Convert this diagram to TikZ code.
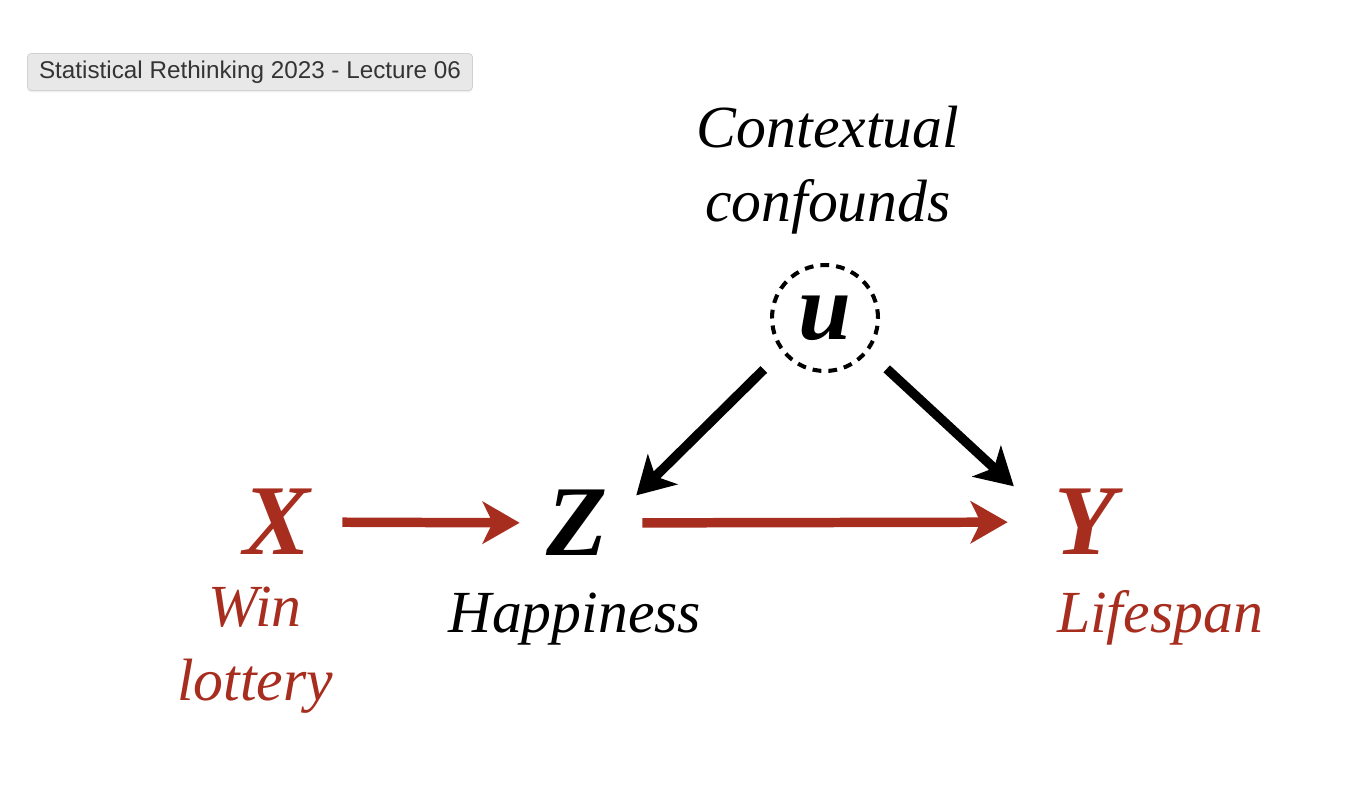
\documentclass[tikz,border=0pt]{standalone}
\usepackage{fontspec}
\setmainfont{Liberation Serif}
\setsansfont{Liberation Sans}
\usepackage{tikz}
\usetikzlibrary{arrows.meta, shadows}
\definecolor{SRRed}{RGB}{167,45,30}
\definecolor{SRBox}{RGB}{232,232,232}
\definecolor{SRText}{RGB}{52,52,52}

\begin{document}
\begin{tikzpicture}[x=0.02cm, y=-0.02cm,
          var/.style={circle, minimum size=2.6cm, inner sep=0pt,
                      font=\fontsize{57}{57}\selectfont\bfseries\itshape},
          lbl/.style={align=center,
                      font=\fontsize{34}{42.5}\selectfont\itshape},
          arr/.style={-{Stealth[length=0.74cm, width=0.84cm, inset=0.2cm]},
                      line width=5.4pt},
          tag/.style={rectangle, rounded corners=2pt, fill=SRBox,
                      draw=black!18, text=SRText, minimum width=8.9cm,
                      minimum height=0.74cm,
                      font=\sffamily\fontsize{13.8}{16}\selectfont,
                      drop shadow={opacity=0.12, shadow xshift=0pt,
                                   shadow yshift=-1pt}}
        ]
        \useasboundingbox (0,0) rectangle (1366,792);

        % Lecture tag
        \node[tag] (lecture) at (250,72)
              {Statistical Rethinking 2023 - Lecture 06};

        % Unobserved confound
        \node[lbl] (ctx) at (828,170) {Contextual\\confounds};
        \node[circle, draw, line width=2.3pt, dash pattern=on 5pt off 4pt,
              minimum size=2.12cm, inner sep=0pt,
              font=\fontsize{54}{54}\selectfont\bfseries\itshape]
              (u) at (825,318) {u};

        % Variables
        \node[var, text=SRRed] (X) at (277,522) {X};
        \node[var]             (Z) at (577,523) {Z};
        \node[var, text=SRRed] (Y) at (1085,522) {Y};

        % Labels
        \node[lbl, text=SRRed] (win)   at (255,650) {Win\\lottery};
        \node[lbl, anchor=base] (happy) at (575,632) {Happiness};
        \node[lbl, text=SRRed, anchor=base] (life) at (1160,632) {Lifespan};

        % Paths
        \draw[arr, draw=SRRed, shorten >=-0.16cm] (X) -- (Z);
        \draw[arr, draw=SRRed, shorten >=0.24cm]  (Z) -- (Y);
        \draw[arr, shorten <=0.5cm]                (u.218) -- (Z.25);
        \draw[arr, shorten <=0.5cm, shorten >=0.3cm] (u.322) -- (Y.157);
      \end{tikzpicture}
\end{document}
